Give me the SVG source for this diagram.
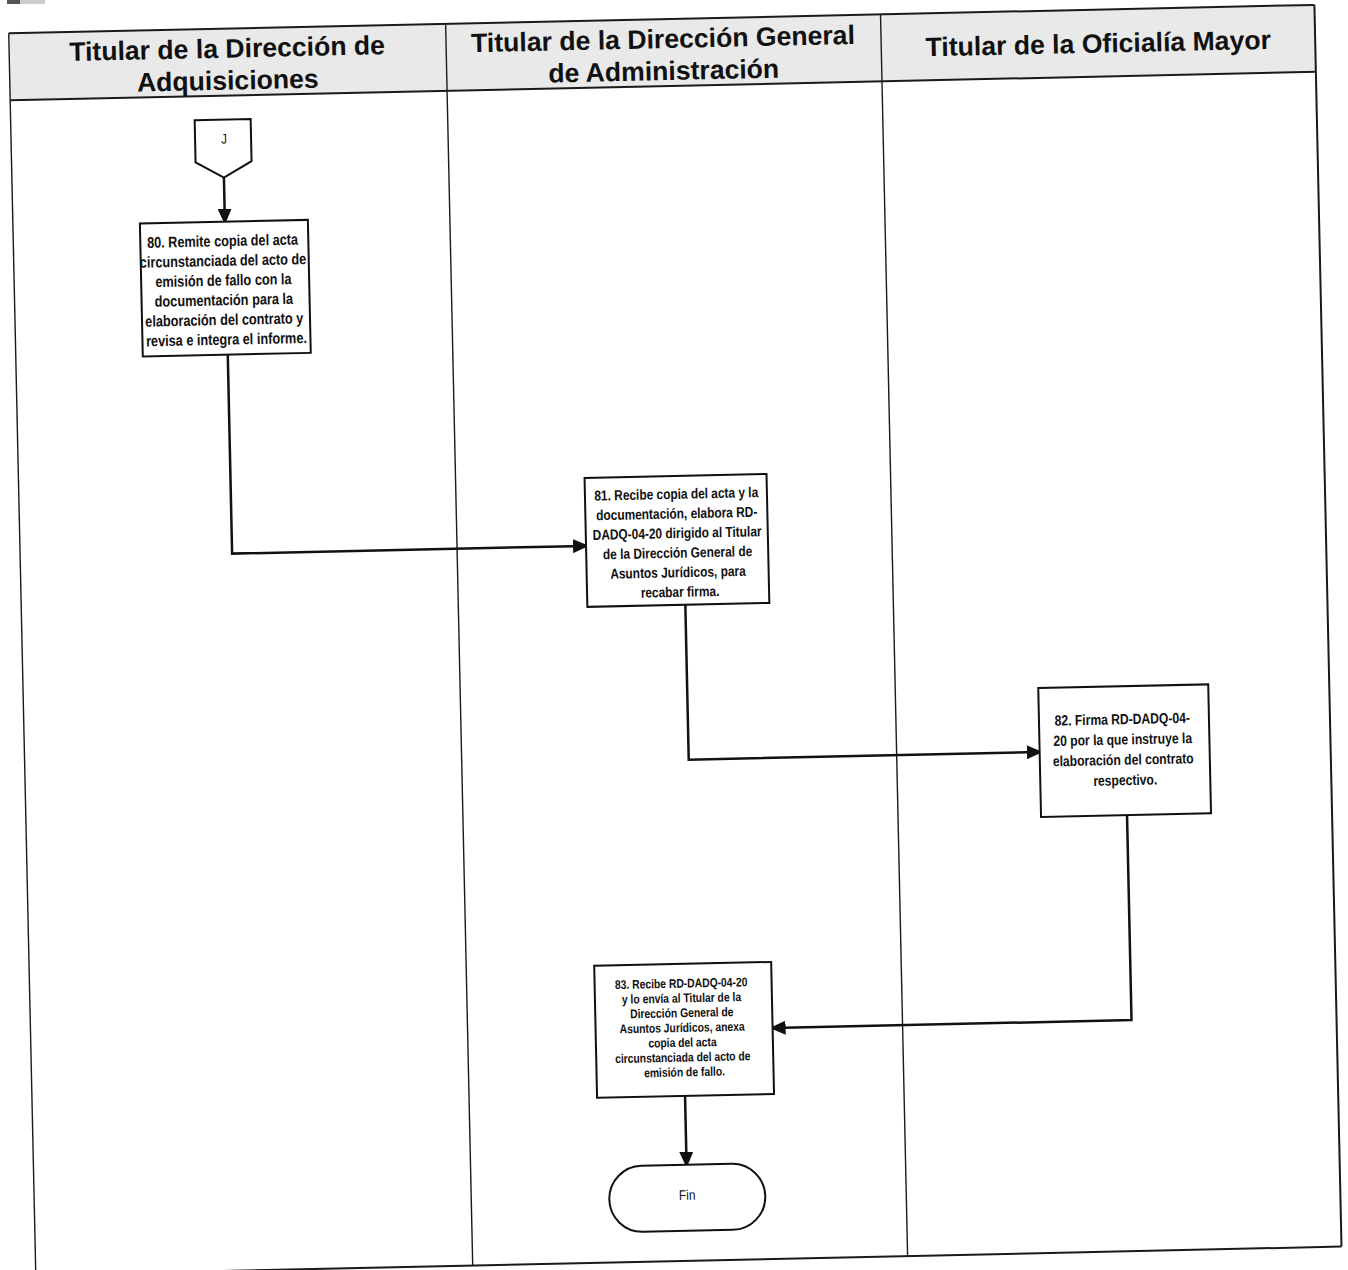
<svg xmlns="http://www.w3.org/2000/svg" width="1348" height="1270" viewBox="0 0 1348 1270">
  <defs>
    <style>
      .frame { fill: none; stroke: #1a1a1a; stroke-width: 2; }
      .lane { fill: none; stroke: #1a1a1a; stroke-width: 1.4; }
      .head { font-family: "Liberation Sans", Arial, sans-serif; font-weight: bold; font-size: 26.6px; fill: #111; text-anchor: middle; }
      .box { fill: #fff; stroke: #111; stroke-width: 2; }
      .txt { font-family: "Liberation Sans", Arial, sans-serif; font-weight: bold; fill: #111; text-anchor: middle; }
      .lbl { font-family: "Liberation Sans", Arial, sans-serif; font-size: 14px; fill: #111; text-anchor: middle; }
      .conn { fill: none; stroke: #111; stroke-width: 2.5; marker-end: url(#ah); }
    </style>
    <marker id="ah" viewBox="0 0 16 14" refX="13" refY="7" markerWidth="16" markerHeight="14" orient="auto" markerUnits="userSpaceOnUse">
      <path d="M0,0 L16,7 L0,14 z" fill="#111"/>
    </marker>
  </defs>

  <rect width="1348" height="1270" fill="#fff"/>
  <!-- page edge marks -->
  <rect x="7" y="0" width="13" height="4" fill="#555"/>
  <rect x="20" y="0" width="25" height="4" fill="#ccc"/>

  <g transform="rotate(-1.25 674 635)">
    <!-- swimlane table -->
    <g id="lanes">
      <rect x="22" y="19" width="1306" height="67" fill="#e9e9e9"/>
      <line class="frame" x1="22" y1="19" x2="1328" y2="19"/>
      <line class="frame" x1="22" y1="86" x2="1328" y2="86"/>
      <line class="frame" x1="22" y1="1261" x2="1328" y2="1261"/>
      <line class="lane" x1="22" y1="19" x2="22" y2="1280"/>
      <line class="lane" x1="459" y1="19" x2="459" y2="1261"/>
      <line class="lane" x1="894" y1="19" x2="894" y2="1261"/>
      <line class="frame" x1="1328" y1="19" x2="1328" y2="1261"/>
      <text class="head" x="240" y="48">Titular de la Dirección de</text>
      <text class="head" x="240" y="80">Adquisiciones</text>
      <text class="head" x="676" y="48">Titular de la Dirección General</text>
      <text class="head" x="676" y="80">de Administración</text>
      <text class="head" x="1111" y="62">Titular de la Oficialía Mayor</text>
    </g>

    <!-- connectors -->
    <g id="connectors">
      <path class="conn" d="M234,168 L234,212"/>
      <path class="conn" d="M234,345 L234,544 L588,544"/>
      <path class="conn" d="M686,605 L686,760 L1037,760"/>
      <path class="conn" d="M1123,825 L1123,1030 L764,1030"/>
      <path class="conn" d="M675,1096 L675,1165"/>
    </g>

    <!-- off-page connector J -->
    <g id="conJ">
      <path class="box" d="M206,110 L262,110 L262,152 L234,168 L206,152 Z"/>
      <text class="lbl" transform="translate(235 134) scale(0.82 1)" x="0" y="0">J</text>
    </g>

    <!-- step 80 (condensed bold text) -->
    <g id="step80">
      <rect class="box" x="149" y="212" width="168" height="133"/>
      <text class="txt" font-size="15.5" transform="translate(233 0) scale(0.82 1)">
        <tspan x="0" y="236.5">80. Remite copia del acta</tspan>
        <tspan x="0" y="256.2">circunstanciada del acto de</tspan>
        <tspan x="0" y="275.9">emisión de fallo con la</tspan>
        <tspan x="0" y="295.6">documentación para la</tspan>
        <tspan x="0" y="315.3">elaboración del contrato y</tspan>
        <tspan x="0" y="335">revisa e integra el informe.</tspan>
      </text>
    </g>

    <!-- step 81 -->
    <g id="step81">
      <rect class="box" x="588" y="476" width="182" height="129"/>
      <text class="txt" font-size="14.5" transform="translate(681 0) scale(0.82 1)">
        <tspan x="0" y="499">81. Recibe copia del acta y la</tspan>
        <tspan x="0" y="518.6">documentación, elabora RD-</tspan>
        <tspan x="0" y="538.2">DADQ-04-20 dirigido al Titular</tspan>
        <tspan x="0" y="557.8">de la Dirección General de</tspan>
        <tspan x="0" y="577.4">Asuntos Jurídicos, para</tspan>
        <tspan x="0" y="597">recabar firma.</tspan>
      </text>
    </g>

    <!-- step 82 -->
    <g id="step82">
      <rect class="box" x="1037" y="696" width="170" height="129"/>
      <text class="txt" font-size="14.8" transform="translate(1122 0) scale(0.82 1)">
        <tspan x="0" y="734">82. Firma RD-DADQ-04-</tspan>
        <tspan x="0" y="754.3">20 por la que instruye la</tspan>
        <tspan x="0" y="774.6">elaboración del contrato</tspan>
        <tspan x="0" y="795">respectivo.</tspan>
      </text>
    </g>

    <!-- step 83 -->
    <g id="step83">
      <rect class="box" x="587" y="964" width="177" height="132"/>
      <text class="txt" font-size="12.6" transform="translate(675 0) scale(0.82 1)">
        <tspan x="0" y="987.7">83. Recibe RD-DADQ-04-20</tspan>
        <tspan x="0" y="1002.5">y lo envía al Titular de la</tspan>
        <tspan x="0" y="1017.3">Dirección General de</tspan>
        <tspan x="0" y="1032.1">Asuntos Jurídicos, anexa</tspan>
        <tspan x="0" y="1046.9">copia del acta</tspan>
        <tspan x="0" y="1061.7">circunstanciada del acto de</tspan>
        <tspan x="0" y="1076.5">emisión de fallo.</tspan>
      </text>
    </g>

    <!-- terminator -->
    <g id="fin">
      <rect class="box" x="597" y="1165" width="156" height="66" rx="33" ry="33"/>
      <text class="lbl" transform="translate(675 1200) scale(0.85 1)" x="0" y="0">Fin</text>
    </g>
  </g>
</svg>
